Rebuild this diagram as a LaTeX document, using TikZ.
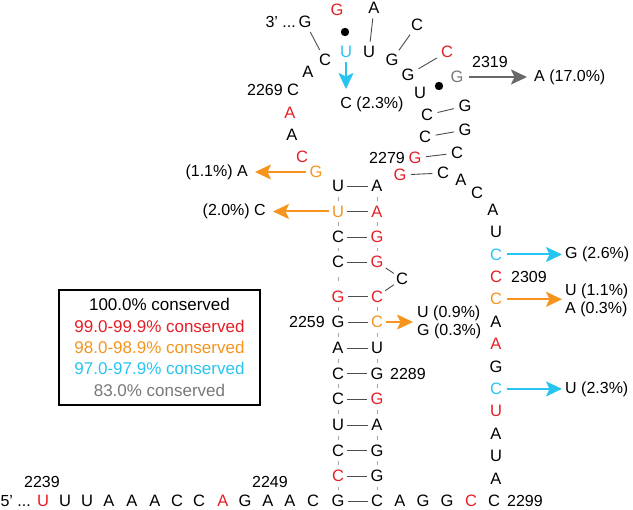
\documentclass[tikz,border=0pt]{standalone}
\usepackage{fontspec}
\setmainfont{Liberation Sans}
\usetikzlibrary{arrows.meta}
\definecolor{cred}{RGB}{228,30,38}
\definecolor{corg}{RGB}{246,148,30}
\definecolor{ccyn}{RGB}{40,196,240}
\definecolor{cgry}{RGB}{120,120,120}
\definecolor{carw}{RGB}{105,105,105}
\newcommand{\ntf}{\fontsize{16.5}{18}\selectfont}
\newcommand{\lbf}{\fontsize{16}{18}\selectfont}
\newcommand{\lgf}{\fontsize{17}{21.3}\selectfont}
\begin{document}
\begin{tikzpicture}[x=1pt,y=-1pt,
  nt/.style={inner sep=0pt, font=\ntf},
  lb/.style={inner sep=0pt, font=\lbf},
  pr/.style={draw=black!70, line width=0.9pt, shorten >=3pt, shorten <=3pt},
  hp/.style={draw=black!70, line width=0.9pt, shorten >=4.5pt, shorten <=4.5pt},
  tk/.style={draw=black!35, line width=0.8pt, shorten >=4.8pt, shorten <=4.8pt},
  mut/.style={line width=2pt, -{Stealth[length=16pt,width=15pt,inset=3.5pt]}, shorten <=3pt},
]
\useasboundingbox (0,0) rectangle (633,510);

% bottom row
\node[lb,anchor=east] (p5) at (31,501) {5’ ...};
\node[nt,cred] (b39) at (43,501) {U};
\node[nt] (b40) at (65,501) {U};
\node[nt] (b41) at (87,501) {U};
\node[nt] (b42) at (109,501) {A};
\node[nt] (b43) at (132,501) {A};
\node[nt] (b44) at (155,501) {A};
\node[nt] (b45) at (177,501) {C};
\node[nt] (b46) at (199,501) {C};
\node[nt,cred] (b47) at (223,501) {A};
\node[nt] (b48) at (245,501) {G};
\node[nt] (b49) at (268,501) {A};
\node[nt] (b50) at (290,501) {A};
\node[nt] (b51) at (313,501) {C};
\node[lb] (l39) at (42,482) {2239};
\node[lb] (l49) at (270,482) {2249};

% left stem
\node[nt] (n52) at (338,501) {G};
\node[nt,cred] (n53) at (338,476) {C};
\node[nt] (n54) at (338,450.5) {C};
\node[nt] (n55) at (338,425) {U};
\node[nt] (n56) at (338,399) {C};
\node[nt] (n57) at (338,373.5) {C};
\node[nt] (n58) at (338,348) {A};
\node[nt] (n59) at (338,322) {G};
\node[nt,cred] (n60) at (338,296.5) {G};
\node[nt] (n61) at (338,262) {C};
\node[nt] (n62) at (338,237) {C};
\node[nt,corg] (n63) at (338,211.5) {U};
\node[nt] (n64) at (338,186) {U};
\node[lb,anchor=east] (l59) at (325,322) {2259};

% right stem
\node[nt] (n81) at (377,186) {A};
\node[nt,cred] (n82) at (377,211.5) {A};
\node[nt,cred] (n83) at (377,237) {G};
\node[nt,cred] (n84) at (377,262) {G};
\node[nt] (n85) at (402,279) {C};
\node[nt,cred] (n86) at (377,296.5) {C};
\node[nt,corg] (n87) at (377,322) {C};
\node[nt] (n88) at (377,348) {U};
\node[nt] (n89) at (377,373.5) {G};
\node[nt,cred] (n90) at (377,399) {G};
\node[nt] (n91) at (377,425) {A};
\node[nt] (n92) at (377,450.5) {G};
\node[nt] (n93) at (377,476) {G};
\node[nt] (n94) at (377,501) {C};
\node[lb,anchor=west] (l89) at (390,373.5) {2289};

% bottom row right
\node[nt] (n95) at (400,501) {A};
\node[nt] (n96) at (423,501) {G};
\node[nt] (n97) at (447,501) {G};
\node[nt,cred] (n98) at (471,501) {C};
\node[nt] (n99) at (494,501) {C};
\node[lb,anchor=west] (l99) at (507,501) {2299};

% left strand to loop
\node[nt,corg] (n65) at (316,172) {G};
\node[nt,cred] (n66) at (302,157) {C};
\node[nt] (n67) at (292,135) {A};
\node[nt,cred] (n68) at (290,113) {A};
\node[nt] (n69) at (293,90) {C};
\node[lb,anchor=east] (l69) at (283,90) {2269};
\node[nt] (n70) at (308,72) {A};
\node[nt] (n71) at (325,60) {C};
\node[nt,ccyn] (n72) at (346,52) {U};
\node[nt] (n73) at (369,52) {U};
\node[nt] (n74) at (392,60) {G};
\node[nt] (n75) at (408,75) {G};
\node[nt] (n76) at (420,93) {U};
\node[nt] (n77) at (427,115) {C};
\node[nt] (n78) at (425,137) {C};
\node[nt,cred] (n79) at (415,158) {G};
\node[nt,cred] (n80) at (400,175) {G};
\node[lb,anchor=east] (l79) at (405,158) {2279};

% right strand
\node[nt] (r00) at (496,478.5) {A};
\node[nt] (r01) at (496,456.1) {U};
\node[nt] (r02) at (496,433.7) {A};
\node[nt,cred] (r03) at (496,411.3) {U};
\node[nt,ccyn] (r04) at (496,388.9) {C};
\node[nt] (r05) at (496,366.5) {G};
\node[nt,cred] (r06) at (496,344.1) {A};
\node[nt] (r07) at (496,321.7) {A};
\node[nt,corg] (r08) at (496,299.3) {C};
\node[nt,cred] (r09) at (496,276.9) {C};
\node[lb,anchor=west] (l09) at (511,276.9) {2309};
\node[nt,ccyn] (r10) at (496,254.5) {C};
\node[nt] (r11) at (496,232.1) {U};
\node[nt] (r12) at (493,210) {A};
\node[nt] (r13) at (477,193) {C};
\node[nt] (r14) at (461,180) {A};
\node[nt] (r15) at (443,173) {C};
\node[nt] (r16) at (457,153) {C};
\node[nt] (r17) at (465,130) {G};
\node[nt] (r18) at (465,106) {G};
\node[nt,cgry] (r19) at (457,77) {G};
\node[nt,cred] (r20) at (447,52) {C};
\node[nt] (r21) at (417,25) {C};
\node[nt] (r22) at (374,8) {A};
\node[nt,cred] (r23) at (337,10) {G};
\node[nt] (r24) at (305,22) {G};
\node[lb,anchor=east] (p3) at (296,22) {3’ ...};
\node[lb] (l19) at (490,62) {2319};

% stem pairs
\foreach \a/\b in {n64/n81,n63/n82,n62/n83,n61/n84,n60/n86,n59/n87,n58/n88,n57/n89,n56/n90,n55/n91,n54/n92,n53/n93,n52/n94}
  \draw[pr] (\a) -- (\b);
% hairpin pairs
\foreach \a/\b in {n80/r15,n79/r16,n78/r17,n77/r18,n75/r20,n74/r21,n73/r22,n71/r24}
  \draw[hp] (\a) -- (\b);
% bulge
\draw[hp,shorten >=2.5pt,shorten <=2.5pt] (n84) -- (n85);
\draw[hp,shorten >=2.5pt,shorten <=2.5pt] (n85) -- (n86);
% wobble dots
\fill (439,86) circle (4.2);
\fill (345,32) circle (4.2);
% backbone ticks
\foreach \a/\b in {n64/n63,n63/n62,n62/n61,n60/n59,n59/n58,n58/n57,n57/n56,n56/n55,n55/n54,n54/n53,n53/n52,
  n81/n82,n82/n83,n83/n84,n86/n87,n87/n88,n88/n89,n89/n90,n90/n91,n91/n92,n92/n93,n93/n94}
  \draw[tk] (\a) -- (\b);
\draw[tk,shorten >=9pt,shorten <=9pt] (n61) -- (n60);

% variant arrows
\coordinate (t65) at (255,172);
\draw[mut,corg] (n65) -- (t65);
\node[lb,anchor=east] (v65) at (248,172) {(1.1\%) A};
\coordinate (t63) at (273,211.5);
\draw[mut,corg] (n63) -- (t63);
\node[lb,anchor=east] (v63) at (266,211.5) {(2.0\%) C};
\coordinate (t87) at (413,322);
\draw[mut,corg] (n87) -- (t87);
\node[lb,anchor=west,align=left] (v87) at (417,322) {U (0.9\%)\\G (0.3\%)};
\coordinate (t10) at (562,254.5);
\draw[mut,ccyn,shorten <=5pt] (r10) -- (t10);
\node[lb,anchor=west] (v10) at (565,254.5) {G (2.6\%)};
\coordinate (t08) at (562,299.3);
\draw[mut,corg,shorten <=5pt] (r08) -- (t08);
\node[lb,anchor=west,align=left] (v08) at (565,300) {U (1.1\%)\\A (0.3\%)};
\coordinate (t04) at (562,388.9);
\draw[mut,ccyn,shorten <=5pt] (r04) -- (t04);
\node[lb,anchor=west] (v04) at (565,388.9) {U (2.3\%)};
\coordinate (t72) at (346,89);
\draw[mut,ccyn,shorten <=4pt] (n72) -- (t72);
\node[lb] (v72) at (372,104) {C (2.3\%)};
\coordinate (t19) at (527,77);
\draw[mut,carw,shorten <=5pt] (r19) -- (t19);
\node[lb,anchor=west] (v19) at (534,77) {A (17.0\%)};

% legend
\node[draw, line width=1.3pt, minimum width=201pt, minimum height=115pt, inner sep=0pt, align=center, font=\lgf] (leg) at (159.5,347.5)
 {100.0\% conserved\\ \textcolor{cred}{99.0-99.9\% conserved}\\ \textcolor{corg}{98.0-98.9\% conserved}\\ \textcolor{ccyn}{97.0-97.9\% conserved}\\ \textcolor{cgry}{83.0\% conserved}};
\end{tikzpicture}
\end{document}
